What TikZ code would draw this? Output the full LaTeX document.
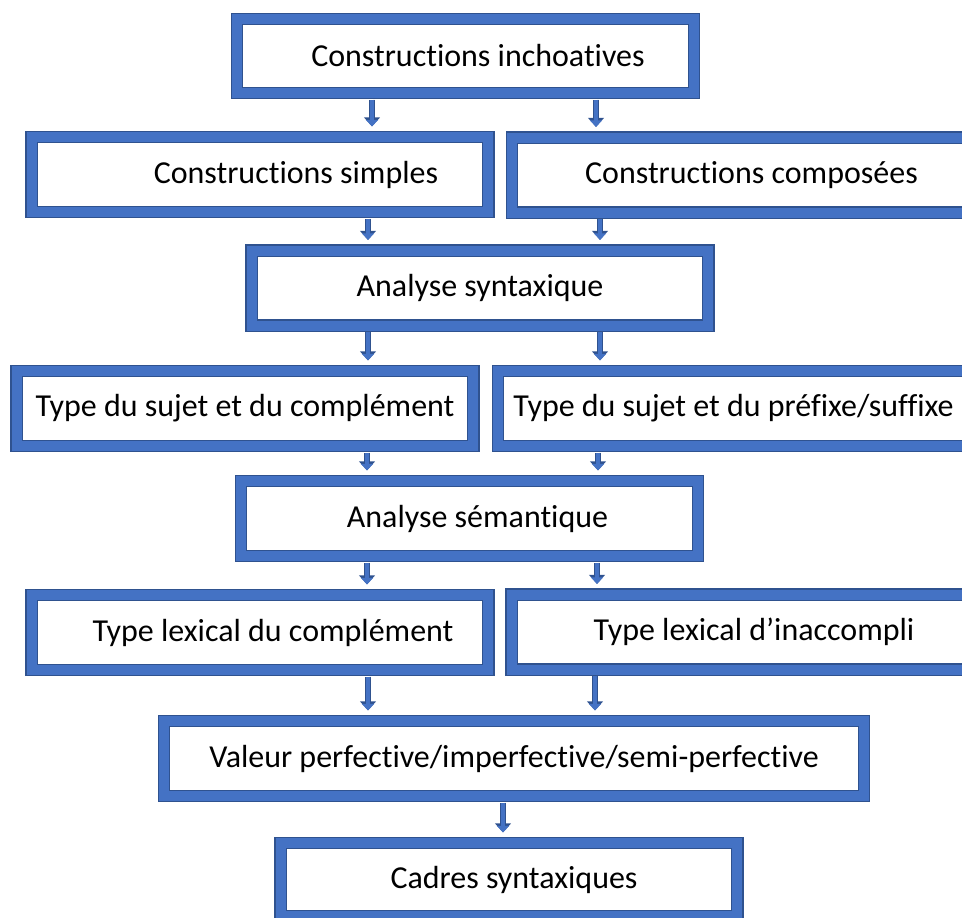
\documentclass[tikz,border=0pt]{standalone}
\usepackage{xcolor}
\usepackage{fontspec}
\setmainfont{Carlito}[Ligatures={NoCommon,NoContextual}]
\usepackage{tikz}
\usetikzlibrary{arrows.meta}

\definecolor{frameblue}{HTML}{4472C4}
\definecolor{framedark}{HTML}{2F528F}

\tikzset{
  box/.style={draw=framedark, line width=0.025cm, double=frameblue, double distance=0.2cm,
    fill=white, inner sep=0pt, minimum width=9.14cm, minimum height=1.5cm,
    font=\fontsize{18.2pt}{22pt}\selectfont},
  flow/.style={draw=frameblue, line width=0.07cm, shorten <=0.12cm, shorten >=0.2cm,
    -{Triangle[width=0.24cm,length=0.13cm]},
    preaction={draw=framedark, line width=0.12cm, -{Triangle[width=0.31cm,length=0.18cm]}}}
}

\begin{document}
\begin{tikzpicture}[x=0.02cm, y=-0.02cm]
    \useasboundingbox (0,0) rectangle (962,917);
    \clip (0,0) rectangle (962,917);

    % Top box
    \node[box, minimum height=1.48cm] (inch) at (465.5,56) {\hspace*{0.5cm}Constructions inchoatives};

    % Simple and compound constructions
    \node[box] (simp) at (260,174.5) {\hspace*{1.44cm}Constructions simples};
    \node[box] (comp) at (740.5,175) {\hspace*{0.44cm}Constructions composées};

    % Syntactic analysis
    \node[box] (synt) at (480,288) {Analyse syntaxique};
    \node[box] (tcomp) at (245,408.5) {Type du sujet et du complément};
    \node[box, minimum width=9.42cm] (tsuff) at (733.5,408.5) {Type du sujet et du préfixe/suffixe};

    % Semantic analysis
    \node[box] (sem) at (469.5,518.5) {\hspace*{0.32cm}Analyse sémantique};
    \node[box] (tlex) at (260,632.5) {\hspace*{0.52cm}Type lexical du complément};
    \node[box] (tinac) at (740,632) {\hspace*{0.56cm}Type lexical d’inaccompli};

    % Values and frames
    \node[box, minimum width=14cm] (val) at (514,758.5) {Valeur perfective/imperfective/semi-perfective};
    \node[box, minimum height=1.46cm] (cadr) at (509,879.5) {\hspace*{0.2cm}Cadres syntaxiques};

    % Arrows between the levels
    \draw[flow] (inch.south -| 372,0) -- (simp.north -| 372,0);
    \draw[flow] (inch.south -| 596,0) -- (comp.north -| 596,0);
    \draw[flow] (simp.south -| 368,0) -- (synt.north -| 368,0);
    \draw[flow] (comp.south -| 600,0) -- (synt.north -| 600,0);
    \draw[flow] (synt.south -| 368,0) -- (tcomp.north -| 368,0);
    \draw[flow] (synt.south -| 600,0) -- (tsuff.north -| 600,0);
    \draw[flow] (tcomp.south -| 367,0) -- (sem.north -| 367,0);
    \draw[flow] (tsuff.south -| 598,0) -- (sem.north -| 598,0);
    \draw[flow] (sem.south -| 367,0) -- (tlex.north -| 367,0);
    \draw[flow] (sem.south -| 597,0) -- (tinac.north -| 597,0);
    \draw[flow] (tlex.south -| 368,0) -- (val.north -| 368,0);
    \draw[flow] (tinac.south -| 595,0) -- (val.north -| 595,0);
    \draw[flow] (val.south -| 503,0) -- (cadr.north -| 503,0);
\end{tikzpicture}
\end{document}
